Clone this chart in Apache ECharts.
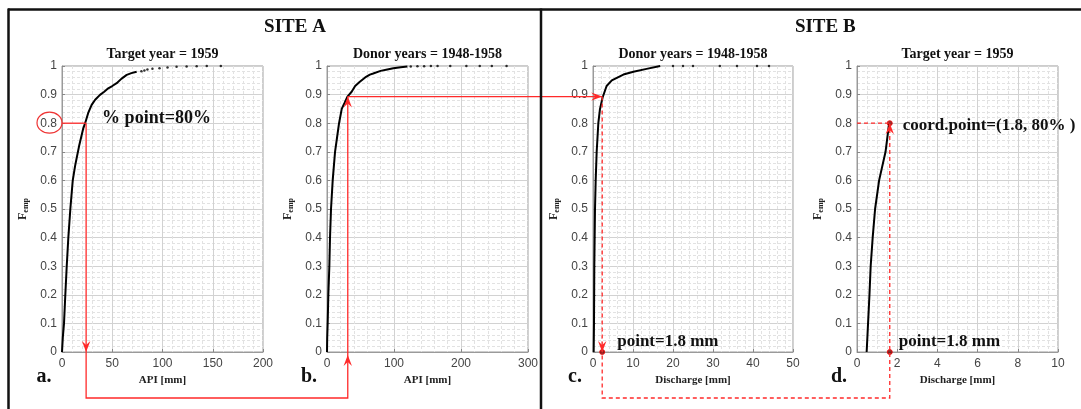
<!DOCTYPE html>
<html><head><meta charset="utf-8">
<script src="https://cdn.jsdelivr.net/npm/echarts/dist/echarts.min.js"></script>
<style>html,body{margin:0;padding:0;background:#fff;}#c{width:1081px;height:409px;}</style>
</head><body><div id="c"></div>
<script>
// ---------------- data ----------------
const siteTitles = ['SITE A', 'SITE B'];
const panelTitles = ['Target year = 1959', 'Donor years = 1948-1958', 'Donor years = 1948-1958', 'Target year = 1959'];
const xNames = ['API [mm]', 'API [mm]', 'Discharge [mm]', 'Discharge [mm]'];
const panelLabels = ['a.', 'b.', 'c.', 'd.'];
const xMax = [200, 300, 50, 10];
const xInterval = [50, 100, 10, 2];
const xMinorSplit = [5, 5, 5, 4];

// panel a: API, target year 1959
const aX = [0, 0.8, 2, 3.3, 4.7, 6.3, 8.3, 10.7, 13, 14.7, 17, 19, 21, 23, 26, 29.5, 33, 37.8, 42, 46, 50, 54.4, 59, 64.4, 69, 74.3];
const aF = [0, 0.05, 0.1, 0.2, 0.3, 0.4, 0.5, 0.6, 0.65, 0.68, 0.72, 0.75, 0.78, 0.8, 0.835, 0.864, 0.882, 0.899, 0.91, 0.922, 0.93, 0.94, 0.955, 0.969, 0.975, 0.98];
const aDotX = [79, 82, 85, 90, 97, 105, 114, 124, 134, 144, 158];
const aDotF = [0.982, 0.984, 0.988, 0.99, 0.992, 0.995, 0.997, 0.998, 0.999, 1, 1];
// panel b: API, donor years
const bX = [0, 0.3, 1, 2, 3.5, 4.5, 6, 8.5, 12, 15, 18, 22, 26, 30.5, 36.8, 42, 49, 57, 64, 69, 80, 90, 99, 110, 120];
const bF = [0, 0.05, 0.1, 0.2, 0.3, 0.4, 0.5, 0.6, 0.7, 0.75, 0.8, 0.85, 0.87, 0.893, 0.91, 0.93, 0.945, 0.96, 0.97, 0.974, 0.983, 0.988, 0.992, 0.996, 0.998];
const bDotX = [125, 135, 145, 155, 165, 184, 208, 228, 246, 268];
const bDotF = [0.998, 0.999, 0.999, 1, 1, 1, 1, 1, 1, 1];
// panel c: discharge, donor years
const cX = [0.17, 0.25, 0.33, 0.5, 0.67, 0.92, 1.33, 1.75, 2.4, 3.4, 4.7, 7.6, 10.1, 13.4, 16.8];
const cF = [0, 0.1, 0.3, 0.5, 0.6, 0.7, 0.8, 0.85, 0.89, 0.93, 0.95, 0.97, 0.98, 0.99, 1];
const cDotX = [20, 22.5, 25, 31.7, 36, 41, 44];
const cDotF = [1, 1, 1, 1, 1, 1, 1];
// panel d: discharge, target year
const dX = [0.48, 0.55, 0.62, 0.68, 0.78, 0.9, 1.1, 1.42, 1.6];
const dF = [0, 0.1, 0.2, 0.3, 0.4, 0.5, 0.6, 0.7, 0.8];

// annotation values
const aPoint = [24, 0.8];
const bPoint = [31, 0.893];
const cPoint = [2.3, 0.893];
const dPoint = [1.63, 0.8];
const annoTexts = ['% point=80%', 'point=1.8 mm', 'point=1.8 mm', 'coord.point=(1.8, 80% )'];

// ---------------- layout ----------------
const gridLeft = [62, 327, 593, 857];
const gridWidth = [201, 201, 200, 201];
const gridTop = 66, gridHeight = 286;
const SERIF = 'Liberation Serif', SANS = 'Liberation Sans';
const RED = '#ff2a2a';

const zip = (xs, ys) => xs.map((x, i) => [x, ys[i]]);
const curves = [zip(aX, aF), zip(bX, bF), zip(cX, cF), zip(dX, dF)];
const dots = [zip(aDotX, aDotF), zip(bDotX, bDotF), zip(cDotX, cDotF), []];

const chart = echarts.init(document.getElementById('c'), null, {renderer: 'canvas'});

const grids = [], xAxes = [], yAxes = [], series = [];
for (let i = 0; i < 4; i++) {
  grids.push({left: gridLeft[i], top: gridTop, width: gridWidth[i], height: gridHeight,
    show: true, borderColor: '#9a9a9a', borderWidth: 1, backgroundColor: '#fff'});
  xAxes.push({type: 'value', gridIndex: i, min: 0, max: xMax[i], interval: xInterval[i],
    axisLine: {show: true, lineStyle: {color: '#9a9a9a', width: 1}},
    axisTick: {show: true, inside: true, length: 3, lineStyle: {color: '#888'}},
    minorTick: {show: false, splitNumber: xMinorSplit[i]},
    axisLabel: {color: '#444', fontSize: 12, fontFamily: SANS, margin: 6},
    splitLine: {show: true, lineStyle: {color: '#d2d2d2', width: 1}},
    minorSplitLine: {show: true, lineStyle: {color: '#e2e2e2', width: 1, type: [3, 2]}},
    name: xNames[i], nameLocation: 'middle', nameGap: 22,
    nameTextStyle: {fontFamily: SERIF, fontWeight: 'bold', fontSize: 11, color: '#222'}
  });
  yAxes.push({type: 'value', gridIndex: i, min: 0, max: 1, interval: 0.1,
    axisLine: {show: true, lineStyle: {color: '#9a9a9a', width: 1}},
    axisTick: {show: true, inside: true, length: 3, lineStyle: {color: '#888'}},
    minorTick: {show: false, splitNumber: 5},
    axisLabel: {color: '#444', fontSize: 12, fontFamily: SANS, margin: 5},
    splitLine: {show: true, lineStyle: {color: '#d2d2d2', width: 1}},
    minorSplitLine: {show: true, lineStyle: {color: '#e2e2e2', width: 1, type: [3, 2]}},
    name: '{f|F}{s|emp}', nameLocation: 'middle', nameGap: 32, nameRotate: 90,
    nameTextStyle: {rich: {
      f: {fontFamily: SERIF, fontWeight: 'bold', fontSize: 12, color: '#222'},
      s: {fontFamily: SERIF, fontWeight: 'bold', fontSize: 8, color: '#222', padding: [7, 0, 0, 0]}
    }}
  });
  series.push({type: 'line', xAxisIndex: i, yAxisIndex: i, data: curves[i], showSymbol: false,
    lineStyle: {color: '#000', width: 2}, silent: true, z: 3});
  if (dots[i].length) series.push({type: 'scatter', xAxisIndex: i, yAxisIndex: i, data: dots[i],
    symbolSize: 2.5, itemStyle: {color: '#000'}, silent: true, z: 3});
}
series.push({type: 'scatter', xAxisIndex: 2, yAxisIndex: 2, data: [[cPoint[0], 0]], symbolSize: 5,
  itemStyle: {color: '#7a0000', borderColor: '#e00', borderWidth: 1}, z: 6, clip: false});
series.push({type: 'scatter', xAxisIndex: 3, yAxisIndex: 3, data: [[dPoint[0], 0], dPoint], symbolSize: 5,
  itemStyle: {color: '#7a0000', borderColor: '#e00', borderWidth: 1}, z: 6, clip: false});

chart.setOption({animation: false, grid: grids, xAxis: xAxes, yAxis: yAxes, series: series});

// --------------- annotations (pixel positions from the chart's own scales) ---------------
const P = (g, pt) => chart.convertToPixel({gridIndex: g}, pt);
const connectorDrop = 46;
const baseY = P(0, [0, 0])[1];
const connY = baseY + connectorDrop;

const pa = P(0, aPoint), pa0 = P(0, [aPoint[0], 0]), pAxis08 = P(0, [0, aPoint[1]]);
const pb = P(1, bPoint), pb0 = P(1, [bPoint[0], 0]);
const pc = P(2, cPoint), pc0 = P(2, [cPoint[0], 0]);
const pd = P(3, dPoint), pd0 = P(3, [dPoint[0], 0]), pdAxis = P(3, [0, dPoint[1]]);

function arrow(tip, dir) {
  const L = 11, W = 4.2, N = 7;
  let pts;
  if (dir === 'down') pts = [[tip[0], tip[1]], [tip[0] - W, tip[1] - L], [tip[0], tip[1] - N], [tip[0] + W, tip[1] - L]];
  else if (dir === 'up') pts = [[tip[0], tip[1]], [tip[0] - W, tip[1] + L], [tip[0], tip[1] + N], [tip[0] + W, tip[1] + L]];
  else pts = [[tip[0], tip[1]], [tip[0] - L, tip[1] - W], [tip[0] - N, tip[1]], [tip[0] - L, tip[1] + W]];
  return {type: 'polygon', shape: {points: pts}, style: {fill: RED}, z: 20};
}
function line(points, dashed) {
  return {type: 'polyline', shape: {points: points},
    style: {stroke: RED, lineWidth: 1.3, fill: null, lineDash: dashed ? [4, 3] : null}, z: 19};
}
function txt(x, y, text, size, align, extra) {
  return Object.assign({type: 'text', x: x, y: y, z: 25,
    style: {text: text, fontFamily: SERIF, fontWeight: 'bold', fontSize: size, fill: '#111',
      align: align || 'center', verticalAlign: 'middle'}}, extra || {});
}

const g = [];
// frame
g.push({type: 'line', shape: {x1: 8, y1: 9.5, x2: 1081, y2: 9.5}, style: {stroke: '#111', lineWidth: 2.5}, z: 30});
g.push({type: 'line', shape: {x1: 8.5, y1: 8.5, x2: 8.5, y2: 409}, style: {stroke: '#111', lineWidth: 2.5}, z: 30});
g.push({type: 'line', shape: {x1: 541, y1: 8.5, x2: 541, y2: 409}, style: {stroke: '#111', lineWidth: 2.5}, z: 30});
// site titles
g.push(txt((gridLeft[0] + gridWidth[0] / 2 + gridLeft[1] + gridWidth[1] / 2) / 2, 27, siteTitles[0], 19));
g.push(txt((gridLeft[2] + gridWidth[2] / 2 + gridLeft[3] + gridWidth[3] / 2) / 2, 27, siteTitles[1], 19));
for (let i = 0; i < 4; i++) {
  g.push(txt(gridLeft[i] + gridWidth[i] / 2, 54, panelTitles[i], 14));
  g.push(txt(gridLeft[i] - 18, 377, panelLabels[i], 20));
}
// panel a: circle round 0.8 label and lines
g.push({type: 'ellipse', shape: {cx: pAxis08[0] - 12.5, cy: pAxis08[1] - 0.5, rx: 12.5, ry: 10.5},
  style: {stroke: '#e33', fill: null, lineWidth: 1.2}, z: 20});
g.push(line([[pAxis08[0], pa[1]], pa]));
g.push(line([pa, [pa[0], connY], [pb[0], connY], pb]));
g.push(arrow(pa0, 'down'));
g.push(arrow([pb0[0], pb0[1] + 3], 'up'));
g.push(arrow(pb, 'up'));
g.push(line([pb, pc]));
g.push(arrow(pc, 'right'));
g.push(line([pc, [pc[0], connY], [pd[0], connY], pd], true));
g.push(arrow(pc0, 'down'));
g.push(arrow(pd, 'up'));
g.push(line([pdAxis, pd], true));
// annotation texts
g.push(txt(pa[0] + 16, pa[1] - 5, annoTexts[0], 18, 'left'));
g.push(txt(pc0[0] + 15, pc0[1] - 10, annoTexts[1], 17, 'left'));
g.push(txt(pd0[0] + 9, pd0[1] - 10, annoTexts[2], 17, 'left'));
g.push(txt(pd[0] + 13, pd[1] + 2, annoTexts[3], 17, 'left'));

chart.setOption({graphic: {elements: g}});
</script></body></html>
